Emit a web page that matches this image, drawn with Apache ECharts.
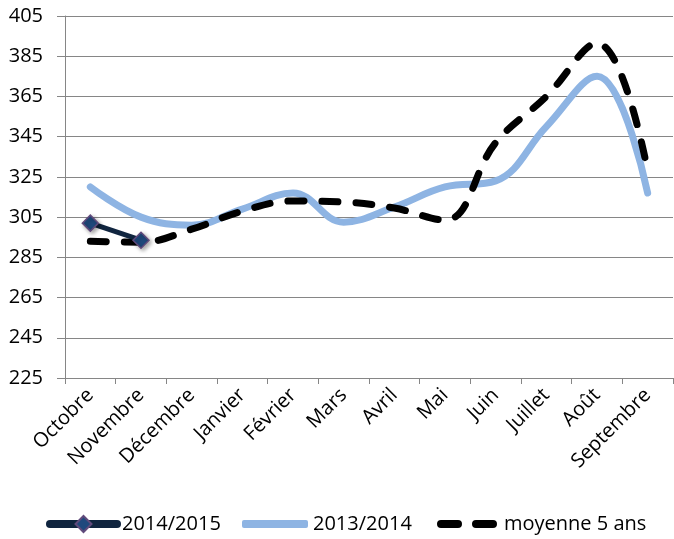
<!DOCTYPE html>
<html>
<head>
<meta charset="utf-8">
<script src="https://cdn.jsdelivr.net/npm/echarts@6/dist/echarts.min.js"></script>
<style>html,body{margin:0;padding:0;background:#fff}#c{width:674px;height:539px}</style>
</head>
<body>
<div id="c"></div>
<script>
const categories = ['Octobre','Novembre','Décembre','Janvier','Février','Mars','Avril','Mai','Juin','Juillet','Août','Septembre'];
const s2014_2015 = [302, 293.5, null, null, null, null, null, null, null, null, null, null];
const s2013_2014 = [320, 305, 301, 309, 317, 302.5, 310, 320, 323, 350, 375, 317];
const moyenne5 = [293, 292.5, 299, 308, 313, 312.5, 309.5, 303.5, 342, 365, 391.5, 328];
const yTicks = { min: 225, max: 405, interval: 20 };
const names = ['2014/2015', '2013/2014', 'moyenne 5 ans'];

const FONT = "'Open Sans', sans-serif";
const legendText = { fontSize: 20, fontFamily: FONT, color: '#000' };
const chart = echarts.init(document.getElementById('c'));
chart.setOption({
  animation: false,
  grid: { left: 65, right: 1, top: 16, bottom: 161 },
  xAxis: {
    type: 'category', data: categories, boundaryGap: true,
    axisLine: { lineStyle: { color: '#868686', width: 1 } },
    axisTick: { show: true, length: 6, lineStyle: { color: '#868686' } },
    axisLabel: { rotate: 45, fontSize: 20, color: '#000', fontFamily: FONT, margin: 14, interval: 0 }
  },
  yAxis: {
    type: 'value', min: yTicks.min, max: yTicks.max, interval: yTicks.interval,
    axisLine: { show: true, lineStyle: { color: '#868686', width: 1 } },
    axisTick: { show: true, length: 8, lineStyle: { color: '#868686' } },
    splitLine: { show: true, lineStyle: { color: '#868686', width: 1 } },
    axisLabel: { fontSize: 20, color: '#000', fontFamily: FONT, margin: 22 }
  },
  legend: [
    { data: [names[0]], left: 46, top: 514, padding: 0, itemWidth: 67, itemHeight: 20,
      lineStyle: { width: 8, cap: 'round' }, textStyle: legendText },
    { data: [{ name: names[1], icon: 'roundRect' }], left: 242, top: 514, padding: 0, itemWidth: 66, itemHeight: 8,
      itemStyle: { borderRadius: 4 }, textStyle: legendText },
    { data: [{ name: names[2], icon: 'path://M4,0H21A4,4,0,0,1,21,8H4A4,4,0,0,1,4,0Z M39,0H56A4,4,0,0,1,56,8H39A4,4,0,0,1,39,0Z' }],
      left: 437, top: 514, padding: 0, itemWidth: 64, itemHeight: 8, textStyle: legendText }
  ],
  series: [
    {
      name: names[1], type: 'line', data: s2013_2014, smooth: 0.4, z: 2,
      symbol: 'none', lineStyle: { color: '#8EB4E3', width: 7, cap: 'round' }, itemStyle: { color: '#8EB4E3' }
    },
    {
      name: names[2], type: 'line', data: moyenne5, smooth: 0.4, z: 3,
      symbol: 'none', lineStyle: { color: '#000', width: 7, type: [16, 18], cap: 'round' }, itemStyle: { color: '#000' }
    },
    {
      name: names[0], type: 'line', data: s2014_2015, smooth: 0.4, z: 4,
      symbol: 'diamond', symbolSize: 16, showSymbol: true,
      lineStyle: { color: '#10253F', width: 5 },
      itemStyle: { color: '#1F497D', borderColor: '#604A7B', borderWidth: 1.5, shadowBlur: 4, shadowOffsetX: 2, shadowOffsetY: 2, shadowColor: 'rgba(0,0,0,0.35)' }
    }
  ]
});
</script>
</body>
</html>
